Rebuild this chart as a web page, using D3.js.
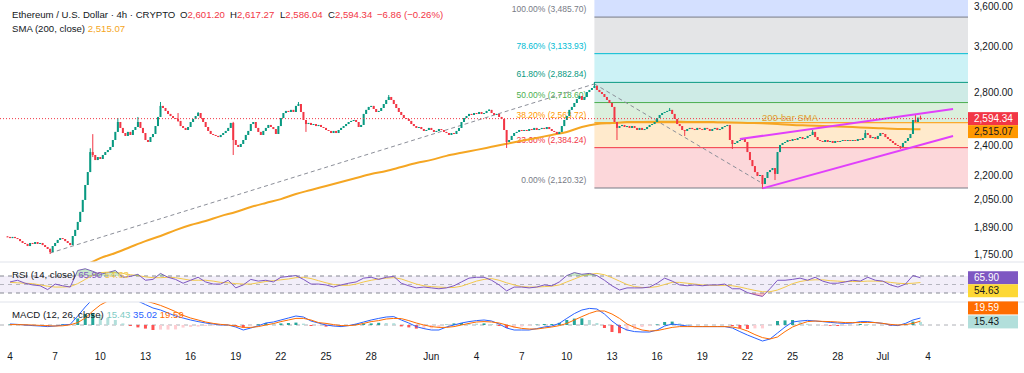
<!DOCTYPE html>
<html>
<head>
<meta charset="utf-8">
<script src="https://cdn.jsdelivr.net/npm/d3@7"></script>
<style>
  body { margin: 0; background: #fff; }
  svg { display: block; font-family: "Liberation Sans", Arial, sans-serif; }
</style>
</head>
<body>
<svg id="chart" width="1024" height="373"></svg>
<script>
// ETH/USD 4h candles, 2025-05-03 20:00 UTC .. 2025-07-03 12:00 UTC (one close per bar, open = previous close)
const firstOpen = 1842;
const closes = [
  1839,
  1833, 1839, 1833, 1828, 1817, 1807,   // May 4
  1802, 1791, 1807, 1802, 1812, 1802,   // May 5
  1807, 1796, 1786, 1776, 1760, 1791,   // May 6
  1807, 1823, 1833, 1828, 1817, 1807,   // May 7
  1796, 1844, 1877, 1921, 1978, 2048,   // May 8
  2139, 2221, 2354, 2334, 2300, 2320,   // May 9
  2307, 2334, 2354, 2368, 2389, 2438,   // May 10
  2496, 2569, 2525, 2488, 2467, 2496,   // May 11
  2474, 2510, 2532, 2569, 2525, 2488,   // May 12
  2438, 2424, 2459, 2481, 2539, 2607,   // May 13
  2692, 2676, 2653, 2630, 2614, 2599,   // May 14
  2592, 2577, 2539, 2525, 2510, 2532,   // May 15
  2569, 2592, 2614, 2637, 2599, 2569,   // May 16
  2532, 2503, 2481, 2474, 2467, 2459,   // May 17
  2474, 2488, 2503, 2525, 2562, 2438,   // May 18
  2403, 2389, 2410, 2438, 2474, 2503,   // May 19
  2554, 2569, 2525, 2496, 2474, 2503,   // May 20
  2525, 2547, 2532, 2517, 2481, 2539,   // May 21
  2599, 2637, 2653, 2645, 2661, 2645,   // May 22
  2692, 2707, 2645, 2584, 2554, 2562,   // May 23
  2547, 2554, 2539, 2547, 2532, 2525,   // May 24
  2510, 2503, 2488, 2503, 2488, 2510,   // May 25
  2525, 2539, 2554, 2569, 2577, 2584,   // May 26
  2569, 2532, 2547, 2630, 2661, 2684,   // May 27
  2692, 2668, 2645, 2653, 2676, 2707,   // May 28
  2739, 2763, 2739, 2707, 2676, 2645,   // May 29
  2622, 2599, 2592, 2577, 2554, 2539,   // May 30
  2525, 2532, 2517, 2503, 2510, 2525,   // May 31
  2510, 2496, 2503, 2517, 2510, 2496,   // Jun 1
  2488, 2474, 2488, 2481, 2503, 2525,   // Jun 2
  2569, 2599, 2614, 2630, 2622, 2637,   // Jun 3
  2630, 2645, 2630, 2637, 2653, 2661,   // Jun 4
  2637, 2622, 2630, 2607, 2592, 2510,   // Jun 5
  2424, 2438, 2467, 2488, 2496, 2510,   // Jun 6
  2503, 2510, 2503, 2517, 2510, 2525,   // Jun 7
  2510, 2517, 2525, 2517, 2532, 2517,   // Jun 8
  2503, 2496, 2481, 2496, 2539, 2584,   // Jun 9
  2614, 2661, 2684, 2715, 2747, 2771,   // Jun 10
  2739, 2763, 2803, 2820, 2836, 2853,   // Jun 11
  2820, 2803, 2787, 2763, 2739, 2715,   // Jun 12
  2684, 2569, 2525, 2539, 2547, 2532,   // Jun 13
  2539, 2525, 2539, 2525, 2510, 2525,   // Jun 14
  2510, 2517, 2532, 2547, 2554, 2569,   // Jun 15
  2599, 2622, 2637, 2645, 2653, 2661,   // Jun 16
  2630, 2592, 2554, 2539, 2510, 2503,   // Jun 17
  2517, 2525, 2517, 2510, 2525, 2517,   // Jun 18
  2510, 2525, 2517, 2503, 2517, 2525,   // Jun 19
  2510, 2517, 2532, 2539, 2547, 2438,   // Jun 20
  2410, 2417, 2431, 2438, 2452, 2424,   // Jun 21
  2354, 2300, 2260, 2221, 2196, 2202,   // Jun 22
  2145, 2183, 2221, 2234, 2247, 2209,   // Jun 23
  2354, 2403, 2417, 2424, 2438, 2431,   // Jun 24
  2445, 2438, 2452, 2459, 2445, 2452,   // Jun 25
  2467, 2474, 2496, 2459, 2438, 2431,   // Jun 26
  2424, 2438, 2424, 2431, 2417, 2431,   // Jun 27
  2424, 2431, 2438, 2431, 2438, 2431,   // Jun 28
  2438, 2431, 2445, 2438, 2452, 2488,   // Jun 29
  2474, 2452, 2459, 2445, 2467, 2488,   // Jun 30
  2481, 2459, 2445, 2431, 2417, 2403,   // Jul 1
  2396, 2389, 2417, 2431, 2452, 2481,   // Jul 2
  2584, 2569, 2601.20, 2594.34          // Jul 3
];
// visible wicks: [bar index, high, low]
const wicks = [
  [17, 1778, 1750], [33, 2380, 2221], [34, 2480, 2320], [44, 2599, 2496], [52, 2607, 2532],
  [61, 2723, 2607], [68, 2637, 2570], [76, 2645, 2614], [90, 2570, 2334], [116, 2723, 2692],
  [119, 2584, 2496], [152, 2779, 2739], [192, 2668, 2653], [199, 2510, 2382], [234, 2886, 2836],
  [243, 2569, 2438], [264, 2676, 2653], [270, 2510, 2467], [289, 2438, 2375], [301, 2202, 2115],
  [306, 2247, 2170], [321, 2510, 2474], [342, 2510, 2452], [356, 2396, 2375], [362, 2622, 2569],
  [364, 2617.27, 2586.04]
];

// SMA(200) daily from May 4 to Jul 3, then the last bar value
const smaDaily = [
  1630, 1642, 1654, 1664, 1676, 1695, 1729, 1755, 1786, 1817,
  1844, 1876, 1904, 1926, 1954, 1977, 2006, 2030, 2053, 2084,
  2108, 2133, 2158, 2183, 2208, 2228, 2254, 2280, 2301, 2328,
  2349, 2369, 2390, 2411, 2432, 2453, 2474, 2496, 2532, 2554,
  2561, 2569, 2570, 2571, 2571, 2570, 2569, 2568, 2566, 2562,
  2559, 2554, 2547, 2543, 2539, 2536, 2532, 2526, 2522, 2518,
  2516
];
const smaLast = 2515.07;

// indicators every 12h from May 4 00:00 to Jul 3 12:00
const rsi = [
  56, 60, 53, 49, 47, 38, 51, 47, 44, 83,
  87, 81, 74, 78, 83, 67, 69, 74, 60, 62,
  76, 67, 62, 53, 60, 67, 56, 51, 51, 60,
  42, 49, 62, 58, 60, 56, 67, 69, 71, 62,
  51, 51, 49, 44, 49, 53, 56, 65, 67, 62,
  67, 69, 53, 47, 42, 44, 42, 40, 42, 47,
  56, 65, 67, 67, 60, 49, 35, 44, 44, 42,
  44, 49, 47, 56, 71, 78, 74, 76, 71, 60,
  47, 37, 42, 42, 42, 44, 53, 65, 58, 49,
  47, 49, 47, 49, 49, 51, 40, 40, 31, 26,
  22, 40, 60, 60, 62, 65, 60, 67, 58, 53,
  53, 56, 60, 58, 67, 60, 58, 49, 44, 51,
  71, 65.90
];
const rsiMa = [
  55, 54, 53, 52, 49, 46, 44, 44, 45, 52,
  62, 72, 78, 79, 78, 76, 73, 71, 68, 66,
  66, 67, 66, 63, 60, 60, 60, 58, 55, 54,
  52, 51, 51, 54, 57, 59, 61, 63, 66, 67,
  64, 59, 54, 50, 48, 48, 51, 56, 60, 63,
  65, 66, 63, 57, 51, 47, 45, 44, 43, 43,
  46, 52, 58, 62, 64, 60, 54, 49, 45, 44,
  44, 45, 46, 49, 56, 63, 70, 74, 76, 73,
  66, 58, 50, 45, 43, 43, 45, 50, 55, 55,
  53, 51, 49, 48, 48, 48, 47, 44, 40, 36,
  33, 33, 37, 44, 52, 57, 60, 61, 61, 59,
  58, 57, 57, 57, 58, 58, 57, 55, 53, 52,
  53, 54.63
];
const macd = [
  5, 3, 0, -3, -5, -8, -5, 0, 3, 45,
  90, 130, 150, 155, 160, 150, 135, 120, 102, 85,
  75, 60, 45, 35, 25, 17, 10, 5, 0, 0,
  -10, -25, -15, -4, 10, 15, 25, 35, 45, 40,
  20, 10, 0, -5, -8, -3, 5, 15, 25, 33,
  40, 42, 25, 10, -8, -18, -25, -25, -10, 0,
  10, 17, 22, 25, 20, 5, -15, -25, -25, -25,
  -18, -10, -5, 8, 33, 57, 75, 83, 80, 55,
  20, -8, -25, -33, -35, -35, -25, -5, 5, 0,
  -5, -8, -8, -8, -8, -8, -15, -33, -50, -65,
  -80, -70, -40, -10, 15, 20, 23, 20, 17, 13,
  10, 8, 10, 17, 17, 12, 8, 0, -3, 8,
  25, 35.02
];
const signal = [
  2, 2, 1, 0, -2, -4, -5, -4, 1, 12,
  35, 70, 100, 120, 135, 142, 140, 132, 120, 110,
  98, 83, 67, 48, 35, 25, 15, 8, 3, 0,
  -5, -12, -12, -8, 0, 7, 17, 25, 33, 33,
  25, 12, 8, 2, -3, -3, 0, 8, 17, 22,
  30, 33, 32, 22, 10, 0, -8, -12, -12, -8,
  0, 8, 15, 17, 15, 10, 0, -10, -17, -20,
  -20, -15, -10, -3, 8, 25, 42, 58, 70, 70,
  55, 33, 5, -12, -25, -30, -28, -20, -12, -8,
  -8, -8, -8, -8, -8, -8, -10, -17, -30, -48,
  -63, -70, -60, -33, -10, 5, 17, 20, 18, 17,
  15, 12, 12, 12, 13, 12, 8, 3, 0, 2,
  8, 19.59
];

// Fibonacci retracement (log) drawn from the Jun 11 peak bar
const fibStartBar = 234;
const fibLevels = [0, 0.236, 0.382, 0.5, 0.618, 0.786, 1];
const fibPrices = [2120.32, 2384.24, 2563.72, 2718.60, 2882.84, 3133.93, 3485.70];

// drawn lines: [bar, price] -> [bar, price]
const dashedLines = [[[17, 1755], [234, 2870]], [[234, 2870], [300, 2158]]];
const channelLines = [[[292, 2445], [377, 2668]], [[301, 2118], [377, 2467]]];
const smaNote = { bar: 312, price: 2600, text: "200-bar SMA" };

const priceTicks = [1750, 1890, 2050, 2200, 2400, 2800, 3200, 3600];
const dateTicks = ["2025-05-04", "2025-05-07", "2025-05-10", "2025-05-13", "2025-05-16", "2025-05-19",
  "2025-05-22", "2025-05-25", "2025-05-28", "2025-06-01", "2025-06-04", "2025-06-07", "2025-06-10",
  "2025-06-13", "2025-06-16", "2025-06-19", "2025-06-22", "2025-06-25", "2025-06-28", "2025-07-01", "2025-07-04"];

// ---- styles ----
const UP = "#089981", DOWN = "#f23645", TXT = "#131722";
const fibColors = ["#787b86", "#f23645", "#ff9800", "#4caf50", "#089981", "#00bcd4", "#787b86"];
const topBandColor = "#2962ff";

const svg = d3.select("#chart");
const fmt = d3.format(",.2f");
const plotR = 968;

const barTime = i => new Date(Date.UTC(2025, 4, 3, 20) + i * 4 * 3600e3);
const halfDay = k => new Date(Date.UTC(2025, 4, 4) + k * 12 * 3600e3);
const dayTime = d => new Date(Date.UTC(2025, 4, 4) + d * 24 * 3600e3);

const x = d3.scaleUtc()
  .domain([new Date(Date.UTC(2025, 4, 4)), new Date(Date.UTC(2025, 6, 4))])
  .range([10, 928]);
const y = d3.scaleLog().domain([1750, 3600]).range([254, 6]);
const yRsi = d3.scaleLinear().domain([30, 70]).range([293, 276]);
const yMacd = d3.scaleLinear().domain([0, 100]).range([325, 305]);

const defs = svg.append("defs");
[["clipMain", 0, 262], ["clipRsi", 262, 40], ["clipMacd", 302, 46], ["clipOb", 262, 14], ["clipOs", 293, 9]]
  .forEach(([id, top, h]) => {
    defs.append("clipPath").attr("id", id)
      .append("rect").attr("x", 0).attr("y", top).attr("width", plotR).attr("height", h);
  });

// bars
const bars = closes.map((c, i) => {
  const o = i === 0 ? firstOpen : closes[i - 1];
  return { t: barTime(i), o, c, h: Math.max(o, c), l: Math.min(o, c) };
});
wicks.forEach(([i, h, l]) => { bars[i].h = h; bars[i].l = l; });

// ---- main pane ----
const main = svg.append("g").attr("clip-path", "url(#clipMain)");

const fx0 = x(barTime(fibStartBar));
fibPrices.forEach((p, i) => {
  const top = i < fibPrices.length - 1 ? y(fibPrices[i + 1]) : 0;
  const col = i < fibPrices.length - 1 ? fibColors[i + 1] : topBandColor;
  main.append("rect")
    .attr("x", fx0).attr("width", plotR - fx0)
    .attr("y", top).attr("height", y(p) - top)
    .attr("fill", col).attr("fill-opacity", 0.2);
});
main.selectAll(".fibline").data(fibPrices).join("line")
  .attr("x1", fx0).attr("x2", plotR)
  .attr("y1", d => y(d)).attr("y2", d => y(d))
  .attr("stroke", (d, i) => fibColors[i]).attr("stroke-width", 1);
main.selectAll(".fiblabel").data(fibPrices).join("text")
  .attr("x", fx0 - 8).attr("y", d => y(d) - 5)
  .attr("text-anchor", "end").attr("font-size", 8.5)
  .attr("fill", (d, i) => fibColors[i])
  .text((d, i) => `${(fibLevels[i] * 100).toFixed(2)}% (${fmt(d)})`);

dashedLines.forEach(([a, b]) => {
  main.append("line")
    .attr("x1", x(barTime(a[0]))).attr("y1", y(a[1]))
    .attr("x2", x(barTime(b[0]))).attr("y2", y(b[1]))
    .attr("stroke", "#8c8f99").attr("stroke-width", 1).attr("stroke-dasharray", "4,3");
});

const smaPts = smaDaily.map((v, d) => [dayTime(d), v]).concat([[barTime(closes.length - 1), smaLast]]);
main.append("path")
  .attr("d", d3.line().x(d => x(d[0])).y(d => y(d[1])).curve(d3.curveMonotoneX)(smaPts))
  .attr("fill", "none").attr("stroke", "#f5a623").attr("stroke-width", 2);

const cg = main.append("g");
cg.selectAll("line").data(bars).join("line")
  .attr("x1", d => x(d.t)).attr("x2", d => x(d.t))
  .attr("y1", d => y(d.h)).attr("y2", d => y(d.l))
  .attr("stroke", d => d.c >= d.o ? UP : DOWN).attr("stroke-width", 1);
cg.selectAll("rect").data(bars).join("rect")
  .attr("x", d => x(d.t) - 1).attr("width", 2)
  .attr("y", d => y(Math.max(d.o, d.c)))
  .attr("height", d => Math.max(1, Math.abs(y(d.o) - y(d.c))))
  .attr("fill", d => d.c >= d.o ? UP : DOWN);

channelLines.forEach(([a, b]) => {
  main.append("line")
    .attr("x1", x(barTime(a[0]))).attr("y1", y(a[1]))
    .attr("x2", x(barTime(b[0]))).attr("y2", y(b[1]))
    .attr("stroke", "#e040fb").attr("stroke-width", 2);
});

const last = bars[bars.length - 1], prev = bars[bars.length - 2];
main.append("line")
  .attr("x1", 0).attr("x2", plotR).attr("y1", y(last.c)).attr("y2", y(last.c))
  .attr("stroke", DOWN).attr("stroke-width", 1).attr("stroke-dasharray", "1,2");

main.append("text")
  .attr("x", x(barTime(smaNote.bar))).attr("y", y(smaNote.price) + 3)
  .attr("text-anchor", "middle").attr("font-size", 9.5).attr("fill", "#e0a030")
  .text(smaNote.text);

// ---- header ----
const head = svg.append("g").attr("font-size", 9.6);
head.append("text").attr("x", 12).attr("y", 18).attr("fill", TXT).text("Ethereum / U.S. Dollar · 4h · CRYPTO");
[["O", last.o, 180], ["H", last.h, 230], ["L", last.l, 280], ["C", last.c, 328]].forEach(([k, v, px]) => {
  const t = head.append("text").attr("x", px).attr("y", 18);
  t.append("tspan").attr("fill", TXT).text(k);
  t.append("tspan").attr("fill", DOWN).text(fmt(v));
});
const chg = last.c - prev.c;
head.append("text").attr("x", 377).attr("y", 18).attr("fill", DOWN)
  .text(`${fmt(chg)} (${d3.format(",.2f")(chg / prev.c * 100)}%)`);
const smaHead = head.append("text").attr("x", 12).attr("y", 32);
smaHead.append("tspan").attr("fill", TXT).text("SMA (200, close) ");
smaHead.append("tspan").attr("fill", "#f5a623").text(fmt(smaLast));

// ---- RSI pane ----
const rsiPts = rsi.map((v, k) => [halfDay(k), v]);
const rsiG = svg.append("g").attr("clip-path", "url(#clipRsi)");
rsiG.append("rect").attr("x", 0).attr("width", plotR)
  .attr("y", yRsi(70)).attr("height", yRsi(30) - yRsi(70)).attr("fill", "#7e57c2").attr("fill-opacity", 0.1);
[70, 50, 30].forEach(v => {
  rsiG.append("line").attr("x1", 0).attr("x2", plotR).attr("y1", yRsi(v)).attr("y2", yRsi(v))
    .attr("stroke", "#787b86").attr("stroke-width", 1).attr("stroke-dasharray", "4,4")
    .attr("stroke-opacity", v === 50 ? 0.5 : 0.9);
});
svg.append("path").attr("clip-path", "url(#clipOb)")
  .attr("d", d3.area().x(d => x(d[0])).y0(yRsi(70)).y1(d => yRsi(d[1]))(rsiPts))
  .attr("fill", "#4caf50").attr("fill-opacity", 0.3);
svg.append("path").attr("clip-path", "url(#clipOs)")
  .attr("d", d3.area().x(d => x(d[0])).y0(yRsi(30)).y1(d => yRsi(d[1]))(rsiPts))
  .attr("fill", "#f23645").attr("fill-opacity", 0.3);
rsiG.append("path")
  .attr("d", d3.line().x(d => x(d[0])).y(d => yRsi(d[1]))(rsiMa.map((v, k) => [halfDay(k), v])))
  .attr("fill", "none").attr("stroke", "#f2c94c").attr("stroke-width", 1);
rsiG.append("path")
  .attr("d", d3.line().x(d => x(d[0])).y(d => yRsi(d[1]))(rsiPts))
  .attr("fill", "none").attr("stroke", "#7e57c2").attr("stroke-width", 1);

// ---- MACD pane ----
const macdG = svg.append("g").attr("clip-path", "url(#clipMacd)");
macdG.append("line").attr("x1", 0).attr("x2", plotR).attr("y1", yMacd(0)).attr("y2", yMacd(0))
  .attr("stroke", "#787b86").attr("stroke-opacity", 0.6).attr("stroke-dasharray", "4,4");
const hist = macd.map((m, k) => ({ t: halfDay(k), v: m - signal[k] }));
hist.forEach((d, k) => {
  const pv = k > 0 ? hist[k - 1].v : d.v;
  d.col = d.v >= 0 ? (d.v >= pv ? "#26a69a" : "#b2dfdb") : (d.v < pv ? "#ff5252" : "#ffcdd2");
});
macdG.selectAll(".hist").data(hist).join("rect")
  .attr("x", d => x(d.t) - 1.5).attr("width", 3)
  .attr("y", d => Math.min(yMacd(0), yMacd(d.v)))
  .attr("height", d => Math.abs(yMacd(d.v) - yMacd(0)))
  .attr("fill", d => d.col);
macdG.append("path")
  .attr("d", d3.line().x((d, k) => x(halfDay(k))).y(d => yMacd(d))(macd))
  .attr("fill", "none").attr("stroke", "#2962ff").attr("stroke-width", 1);
macdG.append("path")
  .attr("d", d3.line().x((d, k) => x(halfDay(k))).y(d => yMacd(d))(signal))
  .attr("fill", "none").attr("stroke", "#ff6d00").attr("stroke-width", 1);

// pane legends
const rl = svg.append("text").attr("x", 12).attr("y", 278).attr("font-size", 9.6);
rl.append("tspan").attr("fill", TXT).text("RSI (14, close) ");
rl.append("tspan").attr("fill", "#7e57c2").text(rsi[rsi.length - 1].toFixed(2) + "  ");
rl.append("tspan").attr("fill", "#f2c94c").text(rsiMa[rsiMa.length - 1].toFixed(2));
const ml = svg.append("text").attr("x", 12).attr("y", 318).attr("font-size", 9.6);
const lastHist = macd[macd.length - 1] - signal[signal.length - 1];
ml.append("tspan").attr("fill", TXT).text("MACD (12, 26, close) ");
ml.append("tspan").attr("fill", "#80cbc4").text(lastHist.toFixed(2) + "  ");
ml.append("tspan").attr("fill", "#2962ff").text(macd[macd.length - 1].toFixed(2) + "  ");
ml.append("tspan").attr("fill", "#ff6d00").text(signal[signal.length - 1].toFixed(2));

// separators
[262, 302].forEach(v => {
  svg.append("line").attr("x1", 0).attr("x2", 1024).attr("y1", v).attr("y2", v)
    .attr("stroke", "#e0e3eb").attr("stroke-width", 1);
});

// ---- price axis ----
const axis = svg.append("g").attr("font-size", 10).attr("fill", TXT);
axis.selectAll("text").data(priceTicks).join("text")
  .attr("x", 974).attr("y", d => y(d)).attr("dy", "0.35em").text(d => fmt(d));

function boxes(list, dir) {
  list.forEach((b, i) => {
    if (i > 0) {
      const p = list[i - 1].pos;
      if (dir > 0 && b.pos < p + 13) b.pos = p + 13;
      if (dir < 0 && b.pos > p - 14) b.pos = p - 14;
    }
    svg.append("rect").attr("x", 968).attr("y", b.pos - 6.5).attr("width", 50).attr("height", 13).attr("fill", b.bg);
    svg.append("text").attr("x", 974).attr("y", b.pos).attr("dy", "0.35em")
      .attr("font-size", 10).attr("fill", b.fg).text(b.label);
  });
}
boxes([
  { pos: y(last.c), bg: "#f23645", fg: "#fff", label: fmt(last.c) },
  { pos: y(smaLast), bg: "#ff9800", fg: TXT, label: fmt(smaLast) }
], 1);
boxes([
  { pos: yRsi(rsi[rsi.length - 1]), bg: "#7e57c2", fg: "#fff", label: rsi[rsi.length - 1].toFixed(2) },
  { pos: yRsi(rsiMa[rsiMa.length - 1]), bg: "#fdd835", fg: TXT, label: rsiMa[rsiMa.length - 1].toFixed(2) }
], 1);
boxes([
  { pos: yMacd(lastHist), bg: "#b2dfdb", fg: TXT, label: lastHist.toFixed(2) },
  { pos: yMacd(signal[signal.length - 1]), bg: "#ff6d00", fg: "#fff", label: signal[signal.length - 1].toFixed(2) }
], -1);

// ---- time axis ----
const tfmt = d => d.getUTCDate() === 1 ? d3.utcFormat("%b")(d) : d3.utcFormat("%-d")(d);
svg.append("g").attr("font-size", 10).attr("fill", TXT)
  .selectAll("text").data(dateTicks.map(s => new Date(s + "T00:00:00Z"))).join("text")
  .attr("x", d => x(d)).attr("y", 360).attr("text-anchor", "middle").text(tfmt);
</script>
</body>
</html>
